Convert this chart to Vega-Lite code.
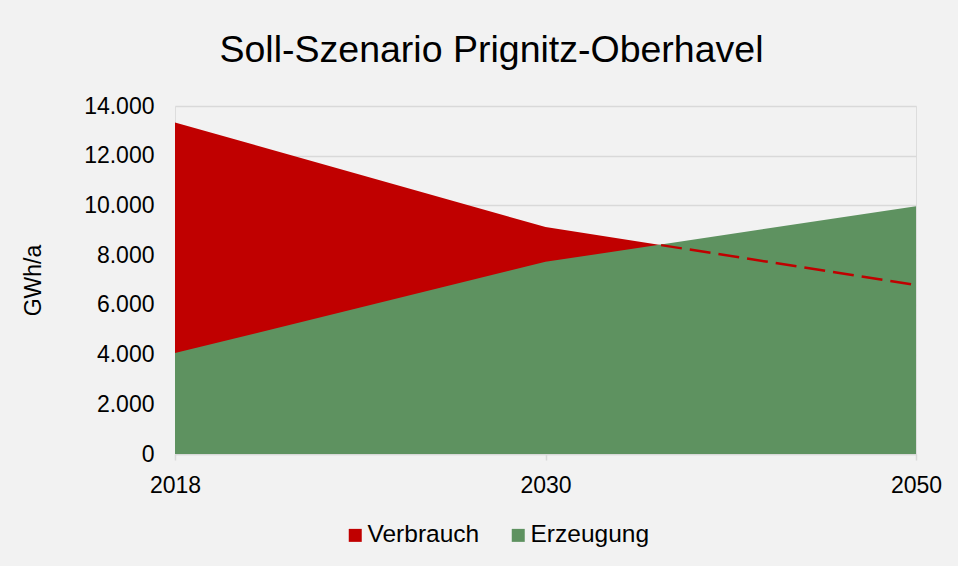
{
  "$schema": "https://vega.github.io/schema/vega-lite/v6.json",
  "autosize": "none",
  "width": 741,
  "height": 348,
  "padding": {"left": 175, "top": 106, "right": 42, "bottom": 112},
  "background": "#f2f2f2",
  "title": {
    "text": "Soll-Szenario Prignitz-Oberhavel",
    "font": "Liberation Sans",
    "fontSize": 37.5,
    "fontWeight": "normal",
    "color": "#000000",
    "anchor": "middle",
    "dx": -54,
    "offset": 26
  },
  "data": {
    "values": [
      {"jahr": "2018", "serie": "Verbrauch", "wert": 13340},
      {"jahr": "2030", "serie": "Verbrauch", "wert": 9130},
      {"jahr": "2050", "serie": "Verbrauch", "wert": 6800},
      {"jahr": "2018", "serie": "Erzeugung", "wert": 4060},
      {"jahr": "2030", "serie": "Erzeugung", "wert": 7730},
      {"jahr": "2050", "serie": "Erzeugung", "wert": 9970}
    ]
  },
  "encoding": {
    "x": {
      "field": "jahr",
      "type": "ordinal",
      "scale": {"type": "point", "padding": 0},
      "axis": {
        "title": null,
        "labelAngle": 0,
        "labelFont": "Liberation Sans",
        "labelFontSize": 23,
        "labelColor": "#000000",
        "domainColor": "#d9d9d9",
        "domainWidth": 1.5,
        "tickColor": "#d9d9d9",
        "tickSize": 6,
        "tickWidth": 1.5,
        "labelPadding": 14,
        "grid": false
      }
    },
    "y": {
      "field": "wert",
      "type": "quantitative",
      "scale": {"domain": [0, 14000], "nice": false},
      "axis": {
        "title": "GWh/a",
        "titleFont": "Liberation Sans",
        "titleFontSize": 23,
        "titleFontWeight": "normal",
        "titleColor": "#000000",
        "titlePadding": 38,
        "values": [0, 2000, 4000, 6000, 8000, 10000, 12000, 14000],
        "labelExpr": "replace(format(datum.value, ','), ',', '.')",
        "labelFont": "Liberation Sans",
        "labelFontSize": 23,
        "labelColor": "#000000",
        "labelPadding": 21,
        "ticks": false,
        "domain": false,
        "grid": true,
        "gridColor": "#d9d9d9",
        "gridWidth": 1.5
      }
    }
  },
  "layer": [
    {
      "transform": [{"filter": "datum.serie === 'Verbrauch'"}],
      "mark": {"type": "area", "opacity": 1},
      "encoding": {
        "color": {
          "field": "serie",
          "type": "nominal",
          "scale": {"domain": ["Verbrauch", "Erzeugung"], "range": ["#c00000", "#5e9260"]},
          "legend": {
            "title": null,
            "orient": "none",
            "direction": "horizontal",
            "legendX": 168,
            "legendY": 417,
            "padding": 0,
            "symbolType": "square",
            "symbolSize": 169,
            "symbolStrokeWidth": 0,
            "symbolOpacity": 1,
            "labelFont": "Liberation Sans",
            "labelFontSize": 24.5,
            "labelColor": "#000000",
            "labelOffset": 0,
            "columnPadding": 26
          }
        }
      }
    },
    {
      "transform": [{"filter": "datum.serie === 'Erzeugung'"}],
      "mark": {"type": "area", "opacity": 1},
      "encoding": {
        "color": {"field": "serie", "type": "nominal"}
      }
    },
    {
      "transform": [{"filter": "datum.serie === 'Verbrauch' && datum.jahr !== '2018'"}],
      "mark": {
        "type": "line",
        "color": "#c00000",
        "strokeWidth": 2.5,
        "strokeDash": [0, 117, 21, 8, 21, 8, 21, 8, 21, 8, 21, 8, 21, 8, 21, 8, 21, 8, 21, 8]
      },
      "encoding": {}
    }
  ]
}
